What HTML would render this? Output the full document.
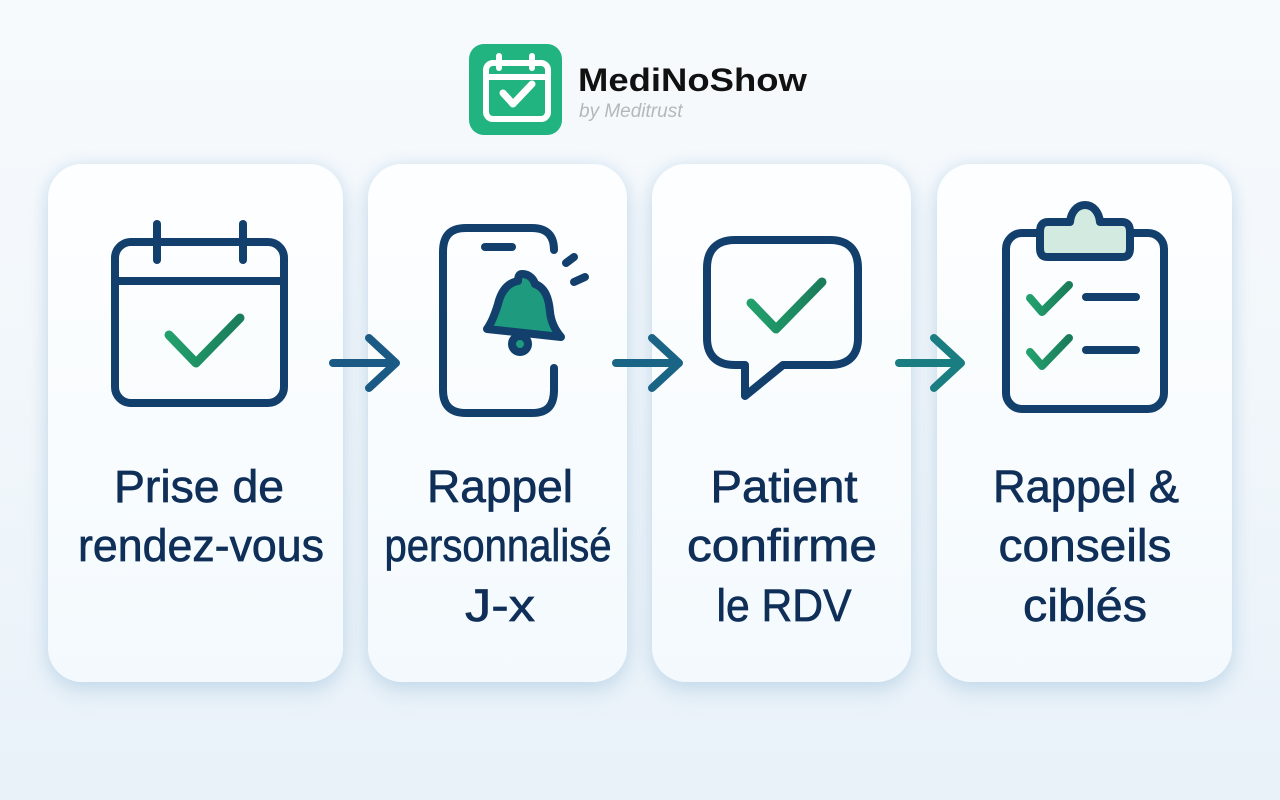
<!DOCTYPE html>
<html>
<head>
<meta charset="utf-8">
<style>
html,body{margin:0;padding:0;}
body{width:1280px;height:800px;overflow:hidden;position:relative;
background:linear-gradient(180deg,#f7fafd 0%,#f2f7fb 45%,#e9f2f9 100%);
font-family:"Liberation Sans",sans-serif;}
.card{position:absolute;top:164px;height:518px;border-radius:34px;
background:linear-gradient(180deg,#fdfeff 0%,#f8fcfe 60%,#f3f9fd 100%);
box-shadow:0 10px 22px rgba(150,185,215,0.35),0 0 14px rgba(190,215,235,0.45);}
svg{position:absolute;left:0;top:0;}
</style>
</head>
<body>
<div class="card" style="left:48px;width:295px;"></div>
<div class="card" style="left:368px;width:259px;"></div>
<div class="card" style="left:652px;width:259px;"></div>
<div class="card" style="left:937px;width:295px;"></div>

<svg width="1280" height="800" viewBox="0 0 1280 800">
  <!-- Logo -->
  <rect x="469" y="44" width="93" height="91" rx="15" fill="#22b480"/>
  <g fill="none" stroke="#ffffff" stroke-width="6" stroke-linecap="round" stroke-linejoin="round">
    <rect x="486" y="63" width="62" height="56" rx="7"/>
    <line x1="486" y1="77" x2="548" y2="77"/>
    <line x1="499" y1="56" x2="499" y2="68"/>
    <line x1="532" y1="56" x2="532" y2="68"/>
    <polyline points="503,93 513,104 532,84" stroke-width="7"/>
  </g>
  <text x="578" y="91" font-family="Liberation Sans, sans-serif" font-weight="700" font-size="32" fill="#111111" transform="translate(578,0) scale(1.14,1) translate(-578,0)">MediNoShow</text>
  <text x="579" y="117" font-family="Liberation Sans, sans-serif" font-style="italic" font-size="19" fill="#b3b8bd">by Meditrust</text>

  <defs>
    <linearGradient id="gchk" x1="0" y1="0" x2="1" y2="0">
      <stop offset="0" stop-color="#22a06c"/>
      <stop offset="1" stop-color="#1a7c5a"/>
    </linearGradient>
  </defs>

  <!-- Calendar icon -->
  <g fill="none" stroke="#123f6b" stroke-width="8" stroke-linecap="round" stroke-linejoin="round">
    <rect x="115" y="242" width="169" height="161" rx="16"/>
    <line x1="115" y1="281" x2="284" y2="281"/>
    <line x1="157" y1="224" x2="157" y2="260"/>
    <line x1="243" y1="224" x2="243" y2="260"/>
  </g>
  <polyline points="169,335 196,363 240,318" fill="none" stroke="url(#gchk)" stroke-width="9" stroke-linecap="round" stroke-linejoin="round"/>

  <!-- Arrow 1 -->
  <g fill="none" stroke="#1a5a84" stroke-width="8" stroke-linecap="round" stroke-linejoin="round">
    <line x1="333" y1="363" x2="394" y2="363"/>
    <polyline points="369,338 396,363 369,388"/>
  </g>

  <!-- Phone icon -->
  <g fill="none" stroke="#123f6b" stroke-width="8" stroke-linecap="round" stroke-linejoin="round">
    <path d="M554,250 L554,250 C554,238 549,228 532,228 L466,228 C450,228 443,236 443,252 L443,390 C443,405 450,413 466,413 L532,413 C548,413 554,405 554,390 L554,368"/>
    <line x1="485" y1="247" x2="512" y2="247"/>
    <line x1="566" y1="263" x2="574" y2="257"/>
    <line x1="574" y1="282" x2="585" y2="277"/>
  </g>
  <!-- Bell -->
  <g stroke="#123f6b" stroke-width="8" stroke-linejoin="round" stroke-linecap="round">
    <circle cx="520" cy="344" r="8" fill="#1e9a7e"/>
    <path d="M522,274 C530,274 534,280 535,284 C546,288 549,300 550,312 C551,322 555,330 561,337 L487,329 C492,322 495,314 498,304 C501,292 507,283 518,281 C518,277 519,274 522,274 Z" fill="#1e9a7e"/>
  </g>

  <!-- Arrow 2 -->
  <g fill="none" stroke="#1a6485" stroke-width="8" stroke-linecap="round" stroke-linejoin="round">
    <line x1="616" y1="363" x2="677" y2="363"/>
    <polyline points="652,338 679,363 652,388"/>
  </g>

  <!-- Speech bubble -->
  <g fill="none" stroke="#123f6b" stroke-width="8" stroke-linecap="round" stroke-linejoin="round">
    <path d="M735,240 L830,240 C848,240 858,250 858,268 L858,338 C858,356 848,365 830,365 L783,365 L745,396 L745,365 L735,365 C717,365 707,356 707,338 L707,268 C707,250 717,240 735,240 Z"/>
  </g>
  <polyline points="751,303 776,329 822,282" fill="none" stroke="url(#gchk)" stroke-width="9" stroke-linecap="round" stroke-linejoin="round"/>

  <!-- Arrow 3 -->
  <g fill="none" stroke="#1a7d82" stroke-width="8" stroke-linecap="round" stroke-linejoin="round">
    <line x1="899" y1="363" x2="959" y2="363"/>
    <polyline points="934,338 961,363 934,388"/>
  </g>

  <!-- Clipboard -->
  <g fill="none" stroke="#123f6b" stroke-width="8" stroke-linecap="round" stroke-linejoin="round">
    <rect x="1006" y="233" width="158" height="176" rx="16"/>
  </g>
  <path d="M1048,222 L1070,222 C1071,212 1077,205 1085,205 C1093,205 1099,212 1100,222 L1122,222 C1128,222 1130,226 1130,232 L1130,248 C1130,254 1128,257 1122,257 L1048,257 C1042,257 1040,254 1040,248 L1040,232 C1040,226 1042,222 1048,222 Z" fill="#d2eadf" stroke="#123f6b" stroke-width="8" stroke-linejoin="round"/>
  <g fill="none" stroke="url(#gchk)" stroke-width="8" stroke-linecap="round" stroke-linejoin="round">
    <polyline points="1030,298 1042,312 1069,285"/>
    <polyline points="1030,352 1042,366 1069,338"/>
  </g>
  <g stroke="#123f6b" stroke-width="8" stroke-linecap="round">
    <line x1="1086" y1="297" x2="1136" y2="297"/>
    <line x1="1086" y1="350" x2="1136" y2="350"/>
  </g>

  <!-- Labels -->
  <g font-family="Liberation Sans, sans-serif" font-size="45" fill="#0f2f58" stroke="#0f2f58" stroke-width="0.7" text-anchor="middle">
    <text x="199" y="502" textLength="170" lengthAdjust="spacingAndGlyphs">Prise de</text>
    <text x="201" y="561" textLength="246" lengthAdjust="spacingAndGlyphs">rendez-vous</text>

    <text x="500" y="502" textLength="146" lengthAdjust="spacingAndGlyphs">Rappel</text>
    <text x="498" y="561" textLength="227" lengthAdjust="spacingAndGlyphs">personnalisé</text>
    <text x="500" y="621" textLength="70" lengthAdjust="spacingAndGlyphs">J-x</text>

    <text x="784" y="502" textLength="147" lengthAdjust="spacingAndGlyphs">Patient</text>
    <text x="782" y="561" textLength="190" lengthAdjust="spacingAndGlyphs">confirme</text>
    <text x="784" y="621" textLength="135" lengthAdjust="spacingAndGlyphs">le RDV</text>

    <text x="1086" y="502" textLength="186" lengthAdjust="spacingAndGlyphs">Rappel &amp;</text>
    <text x="1085" y="561" textLength="173" lengthAdjust="spacingAndGlyphs">conseils</text>
    <text x="1085" y="621" textLength="124" lengthAdjust="spacingAndGlyphs">ciblés</text>
  </g>
</svg>
</body>
</html>
